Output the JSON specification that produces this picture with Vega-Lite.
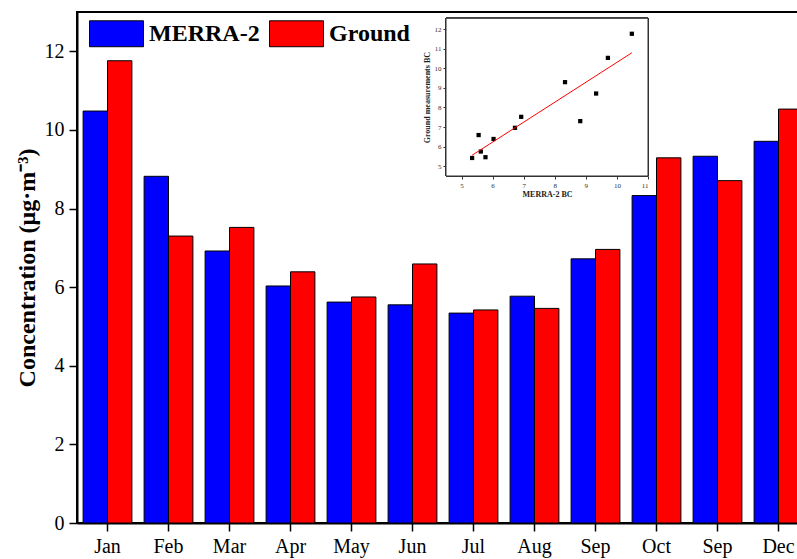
{
  "$schema": "https://vega.github.io/schema/vega-lite/v6.json",
  "width": 732,
  "height": 511,
  "autosize": {"type": "none"},
  "padding": {"left": 77, "top": 12, "right": -12, "bottom": 36},
  "background": "white",
  "config": {
    "view": {"stroke": "black", "strokeWidth": 2},
    "font": "Liberation Serif"
  },
  "data": {
    "values": [
      {"month": "Jan", "MERRA-2": 10.48, "Ground": 11.76},
      {"month": "Feb", "MERRA-2": 8.82, "Ground": 7.30},
      {"month": "Mar", "MERRA-2": 6.92, "Ground": 7.52},
      {"month": "Apr", "MERRA-2": 6.03, "Ground": 6.39},
      {"month": "May", "MERRA-2": 5.62, "Ground": 5.75},
      {"month": "Jun", "MERRA-2": 5.55, "Ground": 6.59},
      {"month": "Jul", "MERRA-2": 5.34, "Ground": 5.42},
      {"month": "Aug", "MERRA-2": 5.77, "Ground": 5.46},
      {"month": "Sep", "MERRA-2": 6.72, "Ground": 6.96},
      {"month": "Oct", "MERRA-2": 8.33, "Ground": 9.29},
      {"month": "Sep ", "MERRA-2": 9.33, "Ground": 8.71},
      {"month": "Dec", "MERRA-2": 9.71, "Ground": 10.53}
    ]
  },
  "layer": [
    {
      "transform": [{"fold": ["MERRA-2", "Ground"], "as": ["source", "value"]}],
      "mark": {"type": "bar", "stroke": "black", "strokeWidth": 1},
      "encoding": {
        "x": {
          "field": "month", "type": "nominal", "sort": null,
          "scale": {"paddingInner": 0.2, "paddingOuter": 0.1},
          "axis": {
            "title": null, "labelAngle": 0, "labelExpr": "trim(datum.value)",
            "labelFont": "Liberation Serif", "labelFontSize": 20, "labelColor": "black",
            "tickSize": 8, "tickColor": "black", "tickWidth": 1.5,
            "domainColor": "black", "domainWidth": 2, "labelPadding": 5
          }
        },
        "xOffset": {
          "field": "source", "sort": ["MERRA-2", "Ground"],
          "scale": {"paddingInner": 0, "paddingOuter": 0}
        },
        "y": {
          "field": "value", "type": "quantitative",
          "scale": {"domain": [0, 13], "nice": false},
          "axis": {
            "title": "Concentration (μg·m⁻³)", "values": [0, 2, 4, 6, 8, 10, 12], "grid": false,
            "labelFont": "Liberation Serif", "labelFontSize": 20, "labelColor": "black",
            "tickSize": 8, "tickColor": "black", "tickWidth": 1.5,
            "domainColor": "black", "domainWidth": 2, "labelPadding": 5,
            "titleFont": "Liberation Serif", "titleFontSize": 24, "titleFontWeight": "bold",
            "titleColor": "black", "titlePadding": 5
          }
        },
        "color": {
          "field": "source", "type": "nominal",
          "scale": {"domain": ["MERRA-2", "Ground"], "range": ["#0000ff", "#ff0000"]},
          "legend": {
            "title": null, "orient": "none", "legendX": 12, "legendY": -6, "direction": "horizontal",
            "symbolType": "M-1,-0.48H1V0.48H-1Z", "symbolSize": 2916,
            "symbolStrokeColor": "black", "symbolStrokeWidth": 1, "symbolOpacity": 1,
            "labelFont": "Liberation Serif", "labelFontSize": 24, "labelFontWeight": "bold",
            "labelColor": "black", "labelOffset": 5, "columnPadding": 7, "padding": 0
          }
        }
      }
    },
    {
      "layer": [
        {
          "mark": {"type": "rect", "fill": "white", "stroke": "#333333", "strokeWidth": 1},
          "encoding": {
            "x": {"datum": 4.5, "type": "quantitative"},
            "x2": {"datum": 11},
            "y": {"datum": 4.5, "type": "quantitative"},
            "y2": {"datum": 12.55}
          }
        },
        {
          "mark": {"type": "point", "shape": "square", "filled": true, "color": "black", "opacity": 1, "size": 18},
          "encoding": {
            "x": {
              "field": "MERRA-2", "type": "quantitative",
              "scale": {"domain": [4.5, 11], "range": [369, 571], "nice": false, "zero": false},
              "axis": {
                "orient": "bottom", "offset": -347, "values": [5, 6, 7, 8, 9, 10, 11], "format": "d", "grid": false,
                "tickSize": 3, "tickColor": "#333333", "domainColor": "#333333", "domainWidth": 1,
                "labelFont": "Liberation Serif", "labelFontSize": 7, "labelColor": "#333333", "labelPadding": 2,
                "title": "MERRA-2 BC", "titleFont": "Liberation Serif", "titleFontSize": 8,
                "titleFontWeight": "bold", "titleColor": "#222222", "titlePadding": 2
              }
            },
            "y": {
              "field": "Ground", "type": "quantitative",
              "scale": {"domain": [4.5, 12.55], "range": [164, 6.3], "nice": false, "zero": false},
              "axis": {
                "orient": "left", "offset": -369, "values": [5, 6, 7, 8, 9, 10, 11, 12], "format": "d", "grid": false,
                "tickSize": 3, "tickColor": "#333333", "domainColor": "#333333", "domainWidth": 1,
                "labelFont": "Liberation Serif", "labelFontSize": 7, "labelColor": "#333333", "labelPadding": 2,
                "title": "Ground measurements BC", "titleFont": "Liberation Serif", "titleFontSize": 8,
                "titleFontWeight": "bold", "titleColor": "#222222", "titlePadding": 3
              }
            }
          }
        },
        {
          "transform": [{"regression": "Ground", "on": "MERRA-2"}],
          "mark": {"type": "line", "color": "#ff0000", "strokeWidth": 1},
          "encoding": {
            "x": {"field": "MERRA-2", "type": "quantitative"},
            "y": {"field": "Ground", "type": "quantitative"}
          }
        }
      ]
    }
  ],
  "resolve": {
    "scale": {"x": "independent", "y": "independent"},
    "axis": {"x": "independent", "y": "independent"}
  }
}
